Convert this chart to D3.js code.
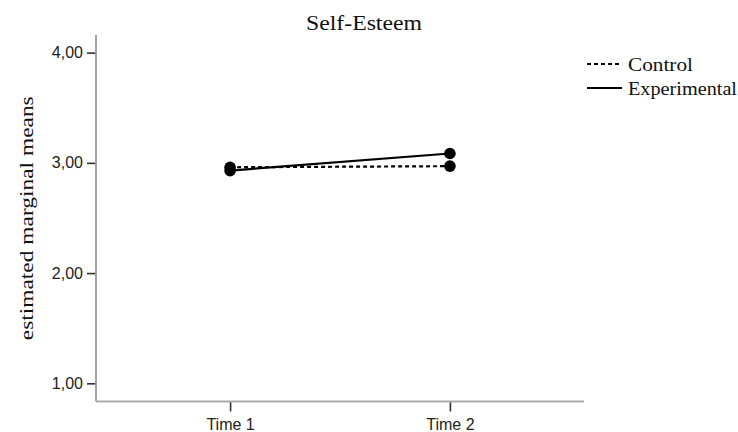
<!DOCTYPE html>
<html>
<head>
<meta charset="utf-8">
<script src="https://cdn.jsdelivr.net/npm/d3@7"></script>
<style>
  html, body { margin: 0; padding: 0; background: #fff; }
  svg { display: block; }
</style>
</head>
<body>
<svg id="chart" width="738" height="432"></svg>
<script>
// ---- data ----
const categories = ["Time 1", "Time 2"];
const controlValues = [2.96, 2.97];
const experimentalValues = [2.93, 3.085];
const yTickValues = [1, 2, 3, 4];
const seriesNames = ["Control", "Experimental"];
const titleText = "Self-Esteem";
const yLabelText = "estimated marginal means";

// ---- layout ----
const plotLeft = 96, plotRight = 584, plotTop = 35, plotBottom = 401.5;

const svg = d3.select("#chart");

const x = d3.scalePoint().domain(categories).range([plotLeft, plotRight]).padding(0.61);
const y = d3.scaleLinear().domain([0.835, 4.16]).range([plotBottom, plotTop]);

const fmt = d => d3.format(".2f")(d).replace(".", ",");

// y axis
const yAxis = svg.append("g")
  .attr("transform", `translate(${plotLeft},0)`)
  .call(d3.axisLeft(y).tickValues(yTickValues).tickSize(9).tickPadding(4).tickFormat(fmt));
yAxis.select(".domain").remove();
yAxis.selectAll(".tick line").attr("stroke", "#333").attr("stroke-width", 1.6);
yAxis.selectAll(".tick text")
  .attr("font-family", "'Liberation Sans', Arial, sans-serif")
  .attr("font-size", 16).attr("fill", "#222");

// x axis
const xAxis = svg.append("g")
  .attr("transform", `translate(0,${plotBottom})`)
  .call(d3.axisBottom(x).tickSize(10).tickPadding(7));
xAxis.select(".domain").remove();
xAxis.selectAll(".tick line").attr("stroke", "#333").attr("stroke-width", 1.6);
xAxis.selectAll(".tick text")
  .attr("font-family", "'Liberation Sans', Arial, sans-serif")
  .attr("font-size", 16).attr("fill", "#222");

// axis lines
svg.append("line").attr("x1", plotLeft).attr("x2", plotLeft).attr("y1", plotTop).attr("y2", plotBottom)
  .attr("stroke", "#999").attr("stroke-width", 1.8);
svg.append("line").attr("x1", plotLeft).attr("x2", plotRight).attr("y1", plotBottom).attr("y2", plotBottom)
  .attr("stroke", "#aaa").attr("stroke-width", 2);

// series
const series = [
  { name: seriesNames[0], values: controlValues, dash: "4,3" },
  { name: seriesNames[1], values: experimentalValues, dash: null }
];

const line = d3.line().x((d, i) => x(categories[i])).y(d => y(d));

series.forEach(s => {
  svg.append("path")
    .attr("d", line(s.values))
    .attr("fill", "none")
    .attr("stroke", "#000")
    .attr("stroke-width", 2.2)
    .attr("stroke-dasharray", s.dash);
});
series.forEach(s => {
  svg.selectAll(null).data(s.values).enter().append("circle")
    .attr("cx", (d, i) => x(categories[i]))
    .attr("cy", d => y(d))
    .attr("r", 5.8)
    .attr("fill", "#000");
});

// title
svg.append("text")
  .attr("x", 364).attr("y", 30)
  .attr("text-anchor", "middle")
  .attr("font-family", "'Liberation Serif', 'Times New Roman', serif")
  .attr("font-size", 20)
  .attr("textLength", 116).attr("lengthAdjust", "spacingAndGlyphs")
  .attr("fill", "#111")
  .text(titleText);

// y label
svg.append("text")
  .attr("transform", `translate(33,${(plotTop + plotBottom) / 2}) rotate(-90)`)
  .attr("text-anchor", "middle")
  .attr("font-family", "'Liberation Serif', 'Times New Roman', serif")
  .attr("font-size", 19)
  .attr("textLength", 244).attr("lengthAdjust", "spacingAndGlyphs")
  .attr("fill", "#111")
  .text(yLabelText);

// legend
const legendWidths = [65, 109];
const legend = svg.append("g");
series.forEach((s, i) => {
  const ly = 64 + i * 24;
  legend.append("line")
    .attr("x1", 587).attr("x2", 622).attr("y1", ly).attr("y2", ly)
    .attr("stroke", "#000").attr("stroke-width", 2)
    .attr("stroke-dasharray", s.dash);
  legend.append("text")
    .attr("x", 628).attr("y", ly + 7)
    .attr("font-family", "'Liberation Serif', 'Times New Roman', serif")
    .attr("font-size", 18)
    .attr("textLength", legendWidths[i]).attr("lengthAdjust", "spacingAndGlyphs")
    .attr("fill", "#111")
    .text(s.name);
});
</script>
</body>
</html>
